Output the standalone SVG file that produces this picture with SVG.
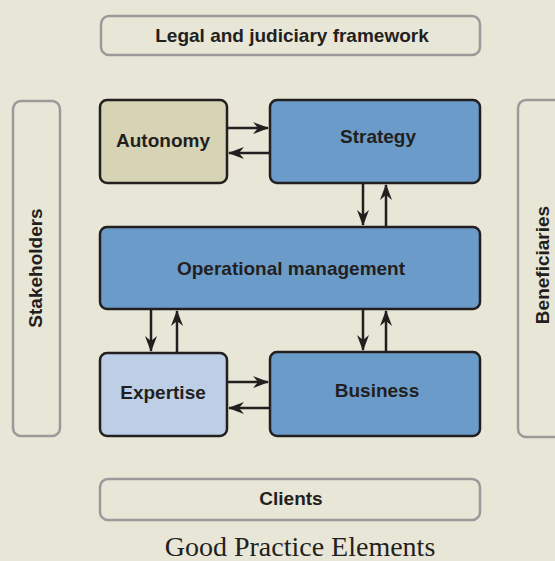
<svg xmlns="http://www.w3.org/2000/svg" width="555" height="561" viewBox="0 0 555 561">
<defs>
<style>
.bg{fill:#e8e6d6}
.outer{fill:#e8e6d6;stroke:#9a9a9a;stroke-width:2.5}
.node{stroke:#231f20;stroke-width:2.5}
.blue{fill:#6b9cc9}
.light{fill:#bccfe6}
.tan{fill:#d7d4b6}
.t{font-family:"Liberation Sans",Arial,sans-serif;font-weight:bold;font-size:19px;fill:#231f20;text-anchor:middle}
.title{font-family:"Liberation Serif","Times New Roman",serif;font-size:28px;fill:#231f20;text-anchor:middle}
.c{stroke:#231f20;stroke-width:2.5;fill:none;marker-end:url(#ah)}
</style>
<marker id="ah" viewBox="0 0 16 12" refX="15" refY="6" markerWidth="16" markerHeight="12" markerUnits="userSpaceOnUse" orient="auto">
<path d="M0,0 L16,6 L0,12 L5,6 z" fill="#231f20"/>
</marker>
</defs>
<rect class="bg" x="0" y="0" width="555" height="561"/>

<g id="legal">
<rect class="outer" x="101" y="16" width="379" height="39" rx="8"/>
<text class="t" x="292" y="42">Legal and judiciary framework</text>
</g>
<g id="stakeholders">
<rect class="outer" x="13" y="101" width="47" height="335" rx="8"/>
<text class="t" transform="translate(42,268) rotate(-90)">Stakeholders</text>
</g>
<g id="beneficiaries">
<rect class="outer" x="518" y="100" width="50" height="337" rx="8"/>
<text class="t" transform="translate(549,265) rotate(-90)">Beneficiaries</text>
</g>
<g id="clients">
<rect class="outer" x="100" y="479" width="380" height="41" rx="8"/>
<text class="t" x="291" y="505">Clients</text>
</g>

<g id="autonomy">
<rect class="node tan" x="100" y="100" width="127" height="83" rx="7"/>
<text class="t" x="163" y="147">Autonomy</text>
</g>
<g id="strategy">
<rect class="node blue" x="270" y="100" width="210" height="83" rx="7"/>
<text class="t" x="378" y="143">Strategy</text>
</g>
<g id="operational">
<rect class="node blue" x="100" y="227" width="380" height="82" rx="7"/>
<text class="t" x="291" y="275">Operational management</text>
</g>
<g id="expertise">
<rect class="node light" x="100" y="353" width="127" height="83" rx="7"/>
<text class="t" x="163" y="399">Expertise</text>
</g>
<g id="business">
<rect class="node blue" x="270" y="352" width="210" height="84" rx="7"/>
<text class="t" x="377" y="397">Business</text>
</g>

<g id="connectors">
<line class="c" x1="228" y1="128" x2="268" y2="128"/>
<line class="c" x1="269" y1="153" x2="229" y2="153"/>
<line class="c" x1="363" y1="184" x2="363" y2="225"/>
<line class="c" x1="386" y1="226" x2="386" y2="185"/>
<line class="c" x1="151" y1="310" x2="151" y2="351"/>
<line class="c" x1="177" y1="352" x2="177" y2="311"/>
<line class="c" x1="363" y1="310" x2="363" y2="350"/>
<line class="c" x1="386" y1="351" x2="386" y2="311"/>
<line class="c" x1="228" y1="382" x2="268" y2="382"/>
<line class="c" x1="269" y1="408" x2="229" y2="408"/>
</g>

<text class="title" x="300" y="556">Good Practice Elements</text>
</svg>
